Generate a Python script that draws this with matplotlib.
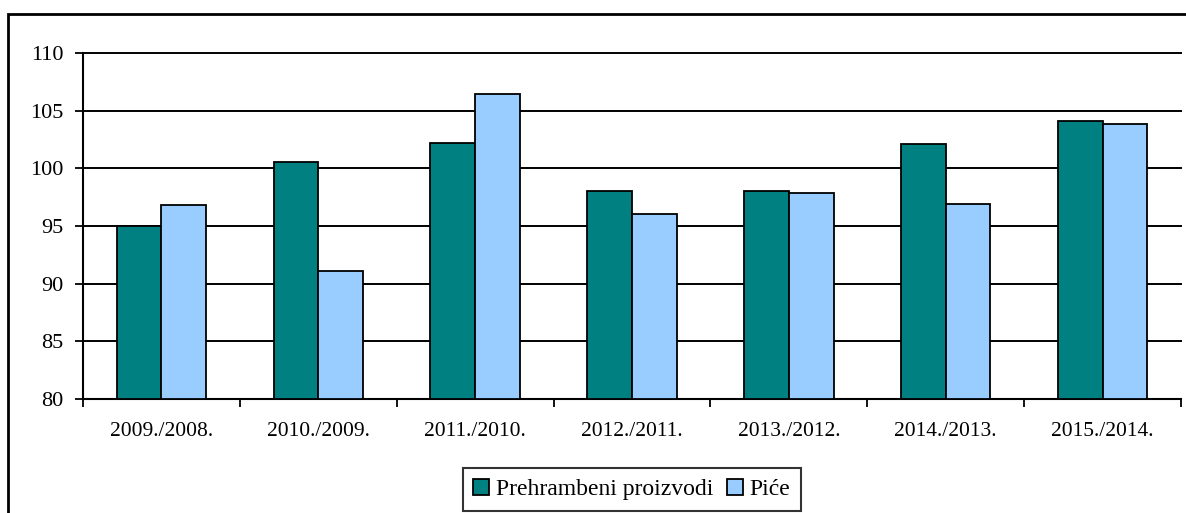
import numpy as np
import matplotlib
matplotlib.use("Agg")
import matplotlib.pyplot as plt
from matplotlib.patches import Rectangle

plt.rcParams['font.family'] = ['Liberation Serif', 'DejaVu Serif']

periods = ["2009./2008.", "2010./2009.", "2011./2010.", "2012./2011.",
           "2013./2012.", "2014./2013.", "2015./2014."]
food = [95.0, 100.6, 102.2, 98.0, 98.0, 102.1, 104.1]
drinks = [96.8, 91.1, 106.5, 96.0, 97.9, 96.9, 103.9]

fig = plt.figure(figsize=(11.86, 5.13), dpi=100)
W, H = 1186, 513
ax = fig.add_axes([83 / W, 1 - 398.7 / H, (1181 - 83) / W, (398.7 - 53.3) / H])

x = np.arange(len(periods))
bw = 0.285
ax.bar(x - bw / 2, np.array(food) - 80, bw, bottom=80, color='#008080',
       edgecolor='black', linewidth=1.3, label='Prehrambeni proizvodi', zorder=3)
ax.bar(x + bw / 2, np.array(drinks) - 80, bw, bottom=80, color='#99ccff',
       edgecolor='black', linewidth=1.3, label='Piće', zorder=3)

ax.set_ylim(80, 110)
ax.set_xlim(-0.5, len(periods) - 0.5)
ax.set_yticks(range(80, 111, 5))
ax.yaxis.grid(True, color='black', linewidth=1.4, zorder=0)
ax.set_axisbelow(True)
for gl in ax.get_ygridlines():
    gl.set_clip_on(False)

# category labels centred, ticks between categories
ax.set_xticks(np.arange(-0.5, len(periods), 1))
ax.set_xticklabels([])
ax.set_xticks(x, minor=True)
ax.set_xticklabels(periods, minor=True, fontsize=15.5)
ax.tick_params(axis='x', which='minor', length=0, pad=17)
ax.tick_params(axis='x', which='major', length=6, width=1.3, direction='out')
ax.tick_params(axis='y', labelsize=16, length=5.8, width=1.3, pad=8.5)

for s in ['top', 'right']:
    ax.spines[s].set_visible(False)
for s in ['left', 'bottom']:
    ax.spines[s].set_linewidth(1.5)

leg = fig.legend(loc='center', bbox_to_anchor=(632 / W, 1 - 489.5 / H), ncol=2,
                 fontsize=17, frameon=True, fancybox=False, edgecolor='black',
                 handlelength=0.65, handleheight=0.65, handletextpad=0.3,
                 columnspacing=0.6, borderpad=0.45, borderaxespad=0)
leg.get_frame().set_linewidth(1.5)

# outer chart frame, running off the right and bottom edges
fig.patches.append(Rectangle((8 / W, -0.1), 1.2, 1 - 13.5 / H + 0.1,
                             transform=fig.transFigure, fill=False,
                             edgecolor='black', linewidth=2))

fig.savefig("out.png", dpi=100)
